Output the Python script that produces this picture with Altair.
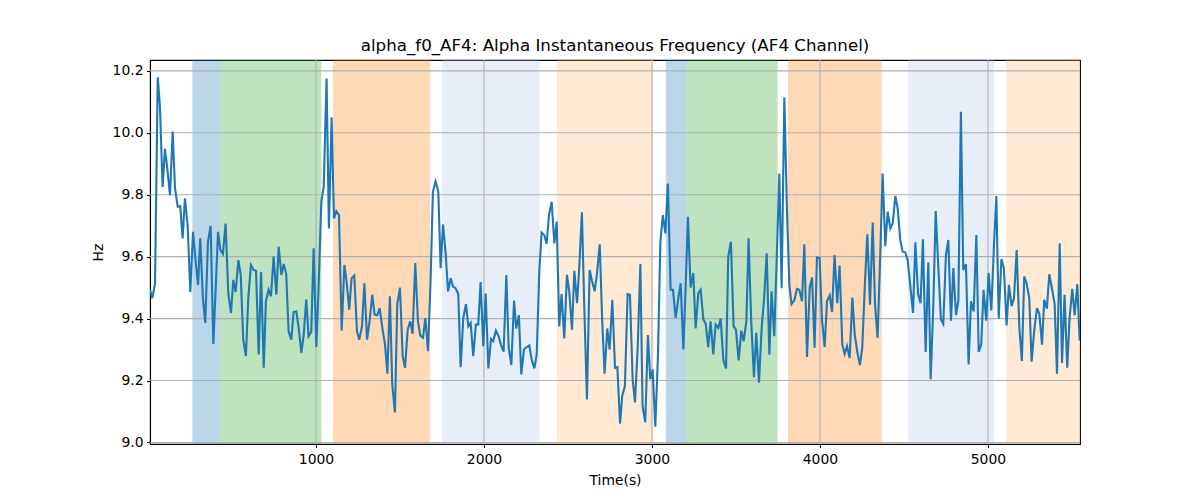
import altair as alt
import pandas as pd

# ---- data ----
times = [12, 26, 42, 58, 71, 87, 101, 115, 131, 147, 161, 177, 192, 206, 220, 236, 252, 268, 282, 298,
         311, 327, 341, 357, 373, 389, 403, 417, 431, 446, 462, 478, 494, 508, 522, 538, 552, 567, 583, 597,
         613, 629, 643, 659, 673, 689, 702, 718, 732, 748, 764, 778, 794, 808, 823, 837, 853, 867, 883, 897,
         913, 927, 942, 956, 972, 986, 1002, 1016, 1032, 1046,
         1063, 1077, 1093, 1107, 1121, 1137, 1153, 1169, 1182, 1198, 1212, 1228, 1244, 1258, 1274, 1288, 1304,
         1319, 1335, 1349, 1365, 1379, 1395, 1411, 1425, 1440, 1454, 1470, 1484, 1500, 1516, 1530, 1546, 1561,
         1575, 1591, 1607, 1621, 1637, 1651, 1667, 1682, 1696, 1712, 1728, 1742, 1756, 1772, 1786, 1802, 1815,
         1831, 1847, 1861, 1877, 1893, 1907, 1921, 1936, 1952, 1966, 1980, 1996, 2010, 2026, 2042, 2055,
         2071, 2087, 2101, 2117, 2133, 2147, 2163, 2179, 2192, 2208, 2222, 2238, 2254, 2270, 2284, 2300, 2314,
         2329, 2343, 2359, 2373, 2387, 2403, 2419, 2433, 2448, 2462, 2478, 2494, 2508, 2524, 2538, 2554, 2567,
         2583, 2597, 2613, 2629, 2643, 2659, 2673, 2689, 2704, 2718, 2734, 2748, 2764, 2780, 2794, 2810, 2823,
         2839, 2855, 2869, 2885, 2899, 2915, 2931, 2944, 2960, 2976, 2990, 3004, 3020, 3036, 3050, 3065,
         3080, 3095, 3111, 3125, 3141, 3157, 3171, 3187, 3201, 3214, 3230, 3246, 3260, 3276, 3290, 3306, 3320,
         3335, 3349, 3365, 3379, 3395, 3409, 3425, 3441, 3454, 3470, 3486, 3500, 3516, 3532, 3546, 3562, 3575,
         3591, 3607, 3621, 3637, 3653, 3667, 3683, 3699, 3712, 3728, 3744, 3758, 3772, 3788, 3804, 3818, 3831,
         3847, 3863, 3877, 3893, 3907, 3923, 3939, 3953, 3968, 3982, 3998, 4012, 4028, 4042, 4058, 4072, 4087,
         4103, 4117, 4133, 4147, 4161, 4177, 4193, 4207, 4222, 4238, 4252, 4268, 4282, 4298, 4314, 4328, 4343,
         4359, 4373, 4389, 4403, 4419, 4433, 4449, 4463, 4478, 4492, 4508, 4522, 4538, 4554, 4568, 4584, 4599,
         4613, 4629, 4645, 4659, 4675, 4689, 4705, 4720, 4734, 4750, 4764, 4780, 4794, 4810, 4824, 4839, 4853,
         4869, 4885, 4899, 4915, 4931, 4945, 4960, 4974, 4990, 5004, 5020, 5036, 5050, 5064, 5080, 5095,
         5111, 5125, 5141, 5155, 5171, 5187, 5202, 5216, 5230, 5246, 5260, 5276, 5292, 5306, 5322, 5335, 5351,
         5365, 5381, 5397, 5411, 5427, 5441, 5456, 5472, 5486, 5502, 5516, 5532, 5546]

values = [9.493, 9.466, 9.514, 10.179, 10.088, 9.825, 9.948, 9.884, 9.798, 10.004, 9.820, 9.761, 9.763, 9.659,
          9.788, 9.702, 9.486, 9.680, 9.595, 9.509, 9.659, 9.466, 9.386, 9.648, 9.699, 9.318, 9.498, 9.680,
          9.621, 9.609, 9.707, 9.482, 9.418, 9.525, 9.486, 9.589, 9.541, 9.332, 9.279, 9.466, 9.573, 9.557,
          9.554, 9.284, 9.550, 9.241, 9.456, 9.493, 9.472, 9.600, 9.477, 9.632, 9.541, 9.576, 9.543, 9.359,
          9.332, 9.421, 9.423, 9.370, 9.289, 9.348, 9.461, 9.343, 9.357, 9.627, 9.308, 9.509, 9.777, 9.825,
          10.175, 9.691, 10.05, 9.723, 9.747, 9.734, 9.361, 9.573, 9.520, 9.429, 9.530, 9.539, 9.359, 9.332,
          9.375, 9.514, 9.332, 9.391, 9.477, 9.413, 9.411, 9.434, 9.370, 9.316, 9.222, 9.472, 9.188, 9.097,
          9.447, 9.500, 9.279, 9.241, 9.364, 9.391, 9.351, 9.579, 9.391, 9.345, 9.338, 9.402, 9.295, 9.520,
          9.809, 9.843, 9.811, 9.563, 9.704, 9.611, 9.488, 9.530, 9.504, 9.498, 9.479, 9.243, 9.402, 9.447,
          9.375, 9.386, 9.279, 9.381, 9.381, 9.518, 9.311, 9.481, 9.239, 9.334, 9.327,
          9.361, 9.343, 9.316, 9.293, 9.541, 9.306, 9.250, 9.458, 9.368, 9.411, 9.220, 9.300, 9.308, 9.313,
          9.268, 9.239, 9.284, 9.547, 9.678, 9.670, 9.642, 9.734, 9.777, 9.643, 9.713, 9.375, 9.479, 9.336,
          9.541, 9.486, 9.364, 9.554, 9.450, 9.563, 9.743, 9.440, 9.139, 9.557, 9.522, 9.488, 9.547, 9.640,
          9.391, 9.222, 9.368, 9.300, 9.461, 9.241, 9.243, 9.061, 9.150, 9.182, 9.479, 9.477, 9.204, 9.129,
          9.306, 9.576, 9.118, 9.065, 9.347, 9.204, 9.236, 9.051, 9.284, 9.648, 9.734,
          9.675, 9.836, 9.493, 9.493, 9.402, 9.466, 9.514, 9.300, 9.509, 9.729, 9.500, 9.547, 9.368, 9.482,
          9.493, 9.397, 9.383, 9.308, 9.391, 9.284, 9.381, 9.370, 9.400, 9.265, 9.239, 9.600, 9.648, 9.375,
          9.364, 9.265, 9.361, 9.327, 9.391, 9.659, 9.391, 9.211, 9.354, 9.193, 9.370, 9.461, 9.611, 9.284,
          9.488, 9.343, 9.616, 9.868, 9.498, 10.114, 9.745, 9.509, 9.447, 9.458, 9.496, 9.493, 9.456, 9.640,
          9.276, 9.500, 9.533, 9.306, 9.597, 9.595, 9.397, 9.308, 9.456, 9.475, 9.421, 9.605,
          9.450, 9.571, 9.316, 9.286, 9.311, 9.273, 9.468, 9.348, 9.293, 9.250, 9.306, 9.520, 9.672, 9.445,
          9.710, 9.445, 9.338, 9.605, 9.868, 9.634, 9.745, 9.691, 9.707, 9.796, 9.755, 9.654, 9.616, 9.614,
          9.589, 9.504, 9.418, 9.646, 9.479, 9.450, 9.656, 9.292, 9.581, 9.204, 9.445, 9.747, 9.563, 9.397,
          9.383, 9.605, 9.654, 9.393, 9.563, 9.411, 9.458, 10.068, 9.557, 9.576, 9.252, 9.456, 9.423, 9.670,
          9.292, 9.316, 9.493, 9.393, 9.547, 9.426, 9.638, 9.796, 9.400, 9.592, 9.563,
          9.378, 9.509, 9.440, 9.466, 9.621, 9.370, 9.263, 9.536, 9.514, 9.466, 9.261, 9.364, 9.434, 9.415,
          9.316, 9.461, 9.432, 9.543, 9.498, 9.447, 9.222, 9.643, 9.257, 9.477, 9.241, 9.402, 9.496, 9.411,
          9.511, 9.329]

band_start = [264, 433, 1101, 1750, 2434, 3083, 3204, 3810, 4524, 5107]
band_end = [433, 1032, 1679, 2331, 3008, 3204, 3748, 4367, 5036, 5548]
band_kind = ["A", "B", "C", "D", "E", "A", "B", "C", "D", "E"]
kind_names = ["A", "B", "C", "D", "E"]
kind_colors = ["#1f77b4", "#2ca02c", "#ff7f0e", "#aec7e8", "#ffbb78"]

x_ticks = [1000, 2000, 3000, 4000, 5000]
y_ticks = [9.0, 9.2, 9.4, 9.6, 9.8, 10.0, 10.2]
x_domain = [12, 5548]
y_domain = [8.995, 10.235]

line_df = pd.DataFrame({"t": times, "v": values})
band_df = pd.DataFrame({"s": band_start, "e": band_end, "k": band_kind})
xg_df = pd.DataFrame({"t": x_ticks})
yg_df = pd.DataFrame({"v": y_ticks})

FONT = "DejaVu Sans"

xscale = alt.Scale(domain=x_domain, nice=False, zero=False)
yscale = alt.Scale(domain=y_domain, nice=False, zero=False)

xaxis = alt.Axis(values=x_ticks, format="d", title="Time(s)", grid=False)
yaxis = alt.Axis(values=y_ticks, format=".1f", title="Hz", grid=False)

bands = alt.Chart(band_df).mark_rect(opacity=0.3, clip=True).encode(
    x=alt.X("s:Q", scale=xscale, axis=xaxis),
    x2="e:Q",
    color=alt.Color("k:N", scale=alt.Scale(domain=kind_names, range=kind_colors), legend=None),
)

xgrid = alt.Chart(xg_df).mark_rule(color="#b0b0b0", strokeWidth=1.1).encode(
    x=alt.X("t:Q", scale=xscale, axis=xaxis)
)
ygrid = alt.Chart(yg_df).mark_rule(color="#b0b0b0", strokeWidth=1.1).encode(
    y=alt.Y("v:Q", scale=yscale, axis=yaxis)
)

line = alt.Chart(line_df).mark_line(color="#1f77b4", strokeWidth=2.1, clip=True).encode(
    x=alt.X("t:Q", scale=xscale, axis=xaxis),
    y=alt.Y("v:Q", scale=yscale, axis=yaxis),
)

chart = alt.layer(bands, xgrid, ygrid, line).properties(
    width=930,
    height=384,
    autosize=alt.AutoSizeParams(type="none"),
    padding={"left": 142, "top": 52, "right": 90, "bottom": 47},
    title=alt.Title(
        "alpha_f0_AF4: Alpha Instantaneous Frequency (AF4 Channel)",
        font=FONT, fontSize=16.7, fontWeight="normal", color="black",
        anchor="middle", offset=5,
    ),
).configure_view(
    stroke="black", strokeWidth=1.1
).configure_axis(
    labelFont=FONT, titleFont=FONT, labelFontSize=13.9, titleFontSize=13.9,
    titleFontWeight="normal", labelColor="black", titleColor="black",
    domainColor="black", domainWidth=1.1, tickColor="black", tickWidth=1.1,
    tickSize=3.5, labelPadding=3.5,
).configure_axisX(
    titlePadding=7, labelPadding=5
).configure_axisY(
    titlePadding=7
)

chart.save("out.html", embed_options={"renderer": "svg", "actions": False})
